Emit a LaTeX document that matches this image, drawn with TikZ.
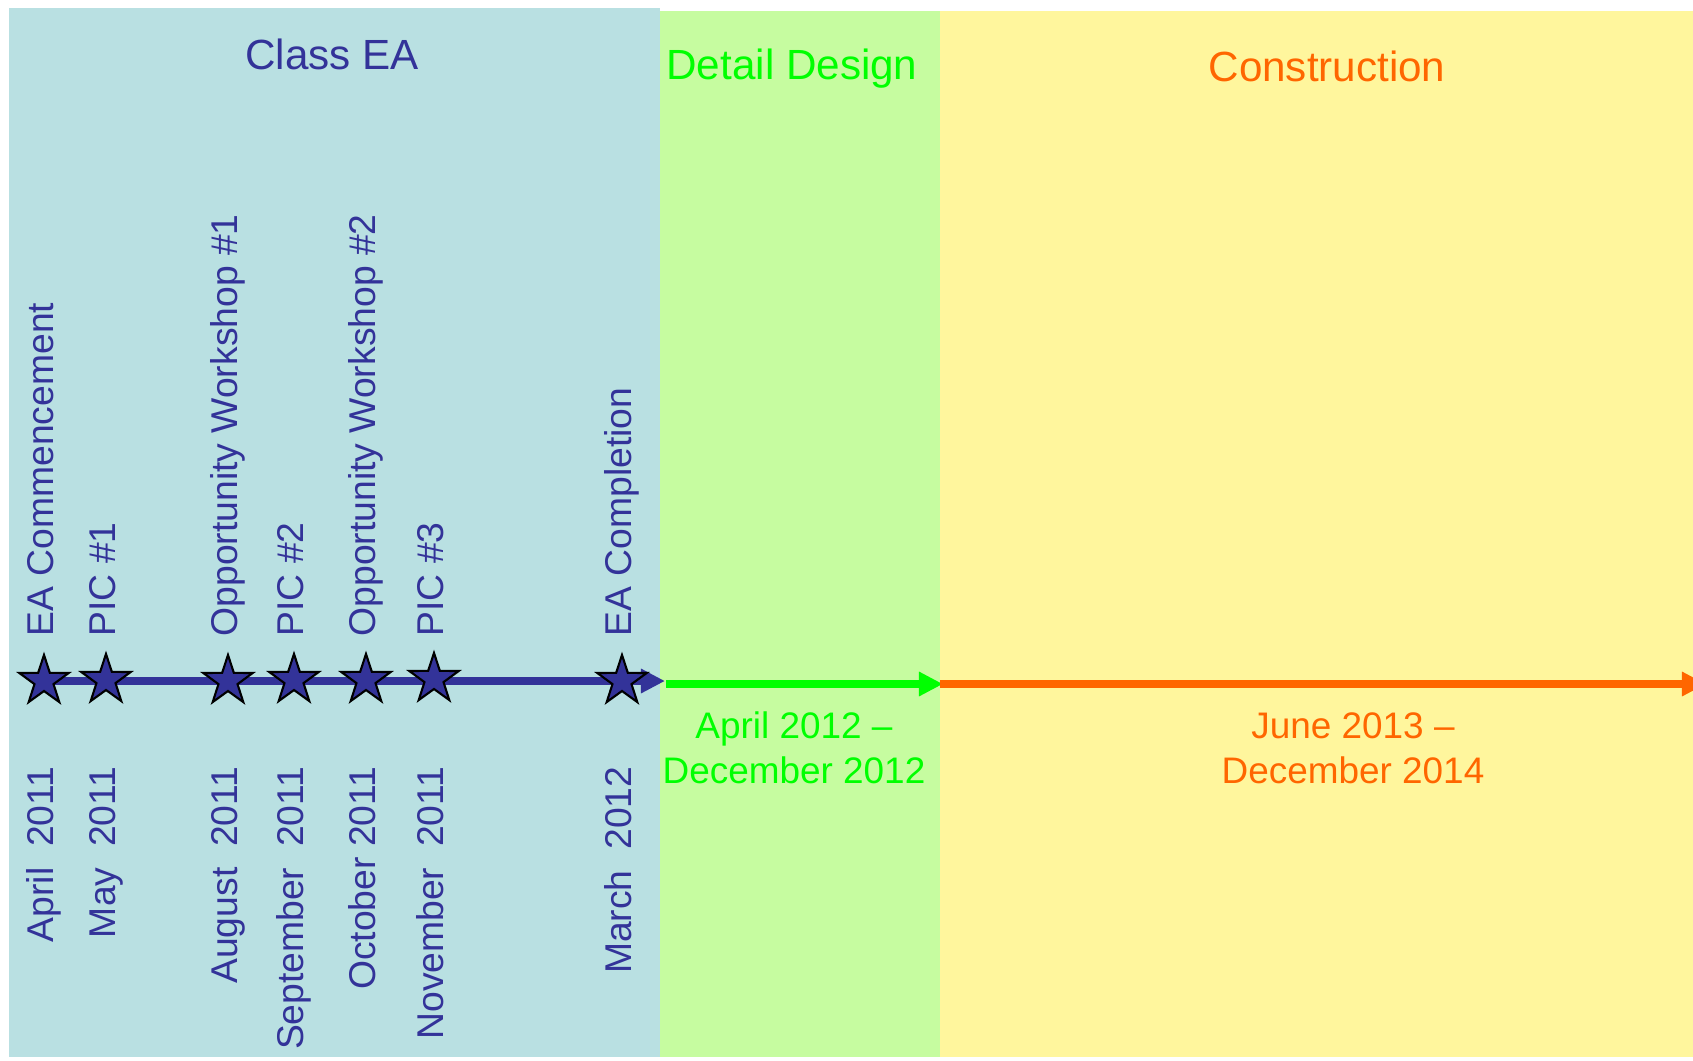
\documentclass[tikz,border=0pt]{standalone}
\usepackage{fontspec}
\setmainfont{Liberation Sans}
\usetikzlibrary{shapes.geometric,arrows.meta}
\definecolor{eablue}{HTML}{333399}
\definecolor{eabg}{HTML}{B9E0E2}
\definecolor{ddgreen}{HTML}{00FF00}
\definecolor{ddbg}{HTML}{C6FCA0}
\definecolor{conorange}{HTML}{FF6600}
\definecolor{conbg}{HTML}{FFF69D}
\pgfdeclarelayer{panels}
\pgfdeclarelayer{lines}
\pgfsetlayers{panels,lines,main}
\begin{document}
\begin{tikzpicture}[x=0.01cm, y=-0.01cm,
	milestone/.style={star, star points=5, star point ratio=2.6, fill=eablue, draw=black, line width=0.6pt, inner sep=0pt, minimum size=0.52cm},
	event/.style={rotate=90, anchor=base west, inner sep=0pt, text=eablue, font=\fontsize{10.6}{12.8}\selectfont},
	date/.style={event, anchor=base east},
	heading/.style={anchor=base, inner sep=0pt, font=\fontsize{12}{14}\selectfont},
	period/.style={anchor=north, inner sep=0pt, align=center, font=\fontsize{10.5}{12.8}\selectfont},
	phase/.style={line width=2.2pt, -{Triangle[length=0.24cm, width=0.23cm]}}]
	\useasboundingbox (0, 0) rectangle (1693, 1060);
	\begin{pgfonlayer}{panels}
		\fill[eabg] (9, 8) rectangle (660, 1057);
		\fill[ddbg] (660, 11) rectangle (940, 1057);
		\fill[conbg] (940, 11) rectangle (1693, 1057);
	\end{pgfonlayer}
	\node[milestone] (0) at (44, 681) {};
	\node[milestone] (1) at (106, 680) {};
	\node[milestone] (2) at (228, 681) {};
	\node[milestone] (3) at (294, 680) {};
	\node[milestone] (4) at (366, 680) {};
	\node[milestone] (5) at (434, 679) {};
	\node[milestone] (6) at (622, 681) {};
	\node[event] (7) at (53, 637) {EA Commencement};
	\node[event] (8) at (115, 637) {PIC \#1};
	\node[event] (9) at (237, 637) {Opportunity Workshop \#1};
	\node[event] (10) at (303, 637) {PIC \#2};
	\node[event] (11) at (375, 637) {Opportunity Workshop \#2};
	\node[event] (12) at (443, 637) {PIC \#3};
	\node[event] (13) at (631, 637) {EA Completion};
	\node[date] (14) at (53, 766) {April\ \ 2011};
	\node[date] (15) at (115, 766) {May\ \ 2011};
	\node[date] (16) at (237, 766) {August\ \ 2011};
	\node[date] (17) at (303, 766) {September\ \ 2011};
	\node[date] (18) at (375, 766) {October 2011};
	\node[date] (19) at (443, 766) {November\ \ 2011};
	\node[date] (20) at (631, 766) {March\ \ 2012};
	\node[heading, text=eablue] (21) at (332, 69) {Class EA};
	\node[heading, text=ddgreen] (22) at (792, 79) {Detail Design};
	\node[heading, text=conorange] (23) at (1327, 81) {Construction};
	\node[period, text=ddgreen] (24) at (794, 711) {April 2012 –\\December 2012};
	\node[period, text=conorange] (25) at (1353, 712) {June 2013 –\\December 2014};
	\coordinate (26) at (665, 681);
	\coordinate (27) at (666, 684);
	\coordinate (28) at (943, 684);
	\coordinate (29) at (940, 684);
	\coordinate (30) at (1706, 684);
	\begin{pgfonlayer}{lines}
		\draw[phase, eablue] (0.center) to (26);
		\draw[phase, ddgreen] (27) to (28);
		\draw[phase, conorange] (29) to (30);
	\end{pgfonlayer}
\end{tikzpicture}
\end{document}
